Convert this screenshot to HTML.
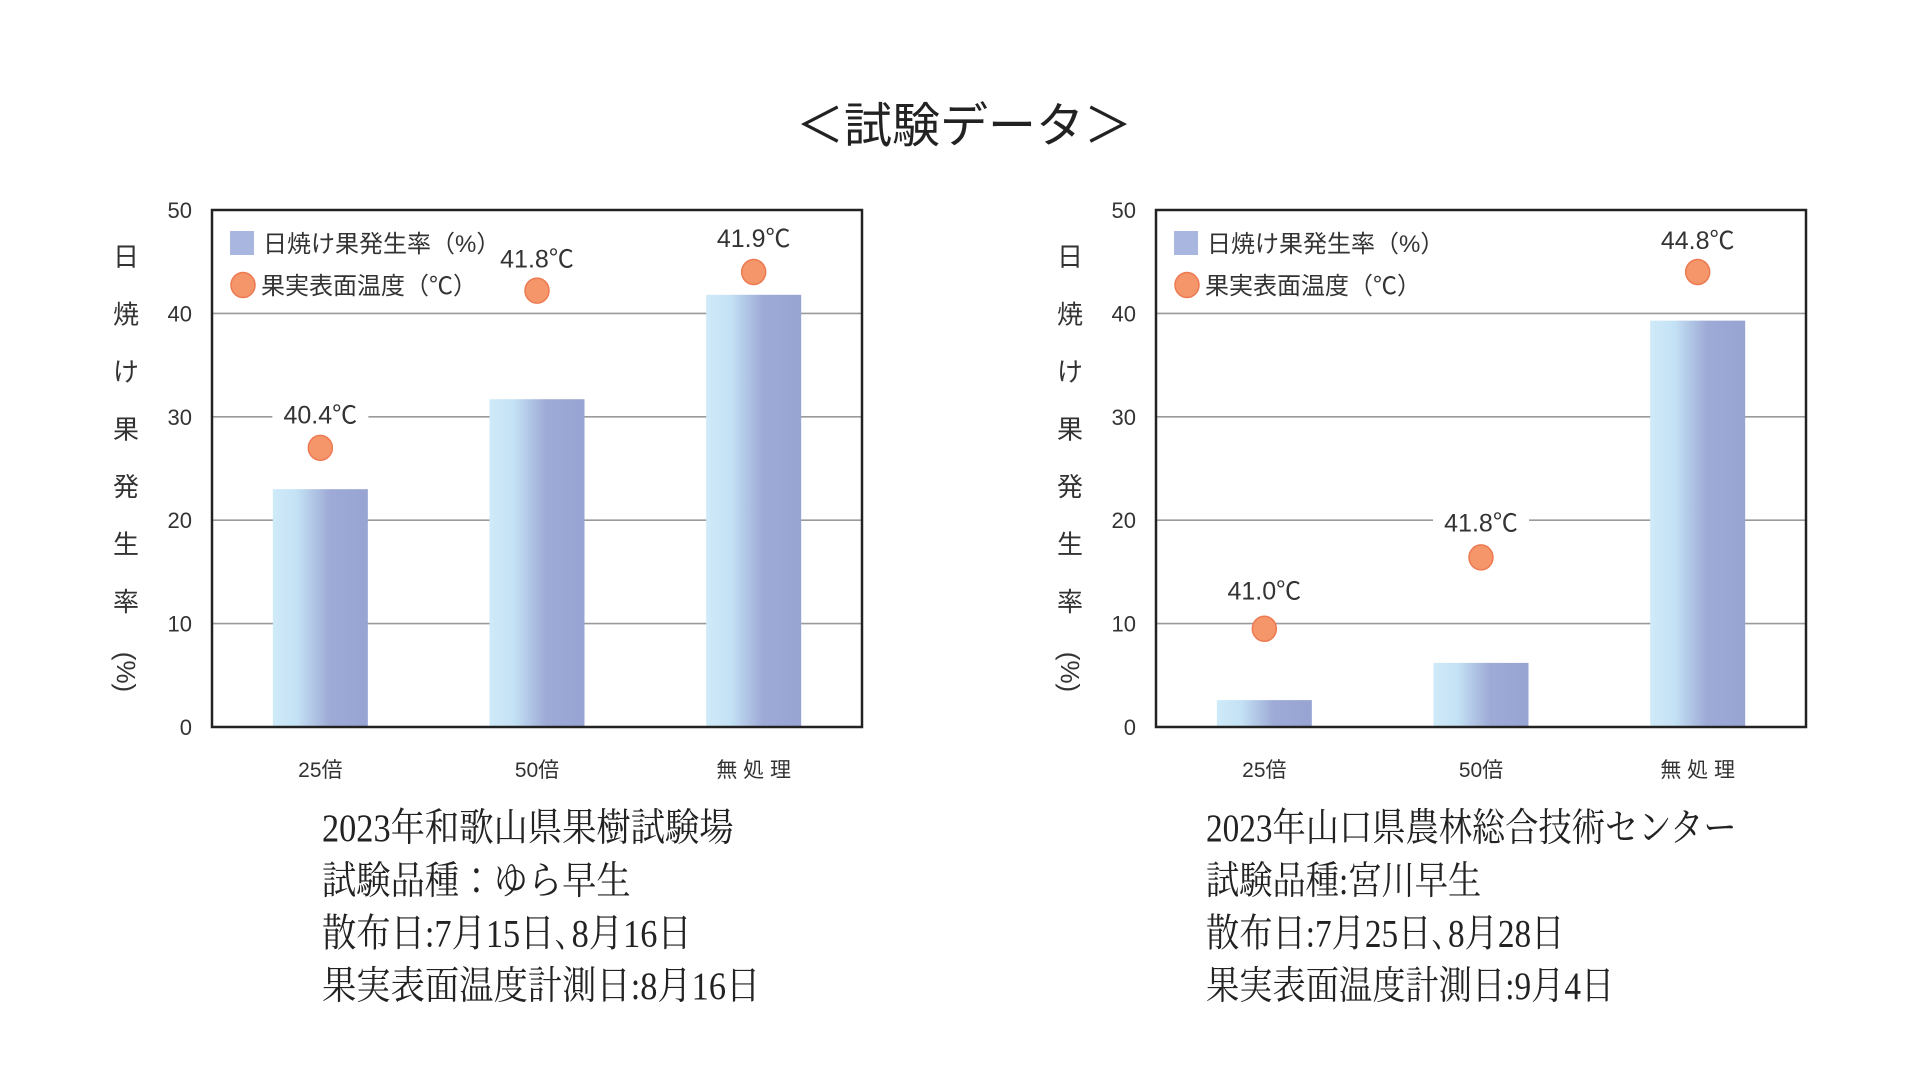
<!DOCTYPE html>
<html lang="ja">
<head>
<meta charset="utf-8">
<title>試験データ</title>
<style>
  html,body{margin:0;padding:0;background:#fff;}
  body{width:1920px;height:1080px;position:relative;overflow:hidden;font-family:"Liberation Sans","Noto Sans CJK JP",sans-serif;}
  svg{position:absolute;left:0;top:0;}
  .note{position:absolute;font-family:"Liberation Serif","Noto Serif CJK SC",serif;font-size:35px;line-height:47px;color:#222;white-space:nowrap;transform:scale(0.98,1.12);transform-origin:left top;}
</style>
</head>
<body>
<svg id="chart" width="1920" height="1080" viewBox="0 0 1920 1080" xmlns="http://www.w3.org/2000/svg">
  <defs>
    <linearGradient id="barGrad" x1="0" y1="0" x2="1" y2="0">
      <stop offset="0" stop-color="#cfeaf9"/>
      <stop offset="0.25" stop-color="#c4e2f5"/>
      <stop offset="0.6" stop-color="#9eaad6"/>
      <stop offset="1" stop-color="#97a3d2"/>
    </linearGradient>
  </defs>
  <text x="964" y="142" text-anchor="middle" font-size="48" fill="#222" font-family="Liberation Sans, Noto Sans CJK JP, sans-serif">＜試験データ＞</text>
</svg>

<div class="note" style="left:322px;top:802px;">2023年和歌山県果樹試験場<br>試験品種：ゆら早生<br>散布日:7月15日､8月16日<br>果実表面温度計測日:8月16日</div>
<div class="note" style="left:1206px;top:802px;transform:scale(0.95,1.12);">2023年山口県農林総合技術センター<br>試験品種:宮川早生<br>散布日:7月25日､8月28日<br>果実表面温度計測日:9月4日</div>

<script>
const categories = ["25倍", "50倍", "無 処 理"];
const yTicks = [0, 10, 20, 30, 40, 50];
const leftRates = [23.0, 31.7, 41.8];
const leftTempLabels = ["40.4℃", "41.8℃", "41.9℃"];
const leftDotLevels = [27.0, 42.2, 44.0];
const leftLabelLevels = [30.2, 45.3, 47.3];
const rightRates = [2.6, 6.2, 39.3];
const rightTempLabels = ["41.0℃", "41.8℃", "44.8℃"];
const rightDotLevels = [9.5, 16.4, 44.0];
const rightLabelLevels = [13.2, 19.8, 47.1];

const NS = "http://www.w3.org/2000/svg";
const svg = document.getElementById("chart");
function mk(tag, attrs, parent){
  const e = document.createElementNS(NS, tag);
  for (const k in attrs) e.setAttribute(k, attrs[k]);
  (parent || svg).appendChild(e);
  return e;
}

function drawChart(prefix, left, rates, tempLabels, dotLevels, labelLevels){
  const right = left + 650, top = 210, bottom = 727;
  const y = v => bottom - (v / 50) * (bottom - top);
  const step = (right - left) / categories.length;
  const x = i => left + step * (i + 0.5);
  const barW = 95;

  const g = mk("g", {});
  
  

  yTicks.forEach(t => {
    if (t > 0 && t < 50) {
      const gl = mk("line", {x1:left, x2:right, y1:y(t), y2:y(t), stroke:"#9a9a9a", "stroke-width":1.6}, g);
      
      
    }
    const tl = mk("text", {x:left - 20, y:y(t) + 8, "text-anchor":"end", "font-size":22, fill:"#333"}, g);
    tl.textContent = t;
    
    
  });

  const titleChars = ["日","焼","け","果","発","生","率"];
  titleChars.forEach((c, i) => {
    const tc = mk("text", {x:left - 86, y:266 + i * 57.5, "text-anchor":"middle", "font-size":26, fill:"#333"}, g);
    tc.textContent = c;
    
    
  });
  const pct = mk("text", {x:0, y:0, "text-anchor":"middle", "font-size":26, fill:"#333", transform:"translate(" + (left - 95) + "," + 672 + ") rotate(90)"}, g);
  pct.textContent = "(%)";
  
  

  rates.forEach((v, i) => {
    const b = mk("rect", {x:x(i) - barW/2, y:y(v), width:barW, height:bottom - y(v), fill:"url(#barGrad)"}, g);
    
    
  });

  tempLabels.forEach((s, i) => {
    const ly = y(labelLevels[i]);
    const bg = mk("rect", {x:x(i) - 48, y:ly - 14, width:96, height:28, fill:"#fff"}, g);
    
    
    const t = mk("text", {x:x(i), y:ly + 9, "text-anchor":"middle", "font-size":25, fill:"#333"}, g);
    t.textContent = s;
    
    
  });

  dotLevels.forEach((v, i) => {
    const d = mk("ellipse", {cx:x(i), cy:y(v), rx:12, ry:12.5, fill:"#f4956a", stroke:"#ee7a52", "stroke-width":1.5}, g);
    
    
  });

  const fr = mk("rect", {x:left, y:top, width:right - left, height:bottom - top, fill:"none", stroke:"#222", "stroke-width":2.5}, g);
  
  

  categories.forEach((c, i) => {
    const t = mk("text", {x:x(i), y:777, "text-anchor":"middle", "font-size":21, fill:"#333"}, g);
    t.textContent = c;
    
    
  });

  const lg = mk("g", {}, g);
  
  
  const sq = mk("rect", {x:left + 18, y:231, width:24, height:24, fill:"#a9b6e0"}, lg);
  
  
  const l1 = mk("text", {x:left + 51, y:252, "font-size":24, fill:"#333"}, lg);
  l1.textContent = "日焼け果発生率（%）";
  
  
  const dc = mk("ellipse", {cx:left + 31, cy:285, rx:12, ry:12.5, fill:"#f4956a", stroke:"#ee7a52", "stroke-width":1.5}, lg);
  
  
  const l2 = mk("text", {x:left + 49, y:294, "font-size":24, fill:"#333"}, lg);
  l2.textContent = "果実表面温度（℃）";
  
  
}

drawChart("left", 212, leftRates, leftTempLabels, leftDotLevels, leftLabelLevels);
drawChart("right", 1156, rightRates, rightTempLabels, rightDotLevels, rightLabelLevels);
</script>
</body>
</html>
